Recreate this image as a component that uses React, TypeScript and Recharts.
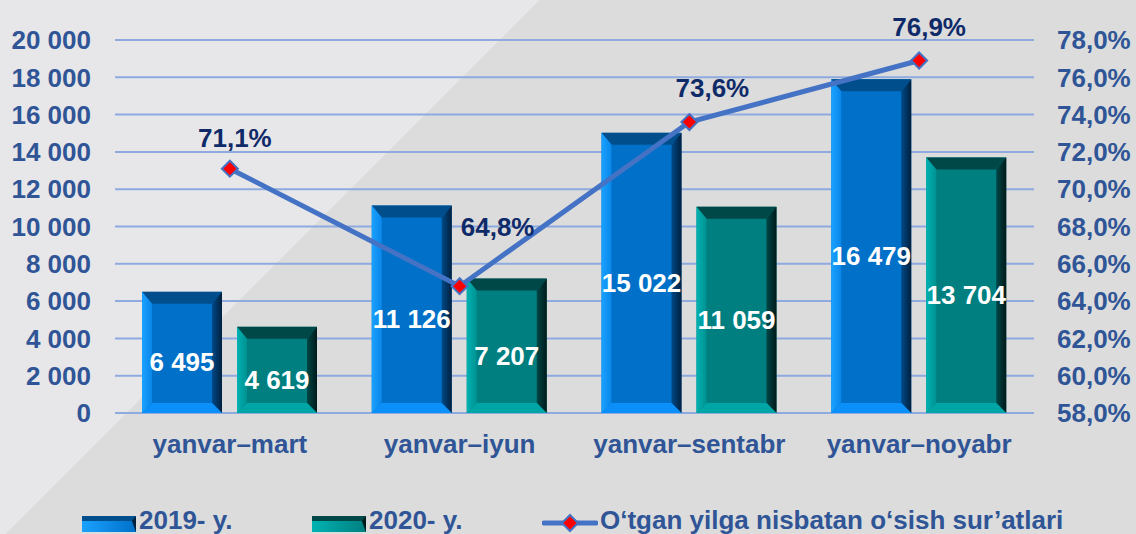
import React from "react";
import { ComposedChart, Bar, Line, XAxis, YAxis, CartesianGrid, LabelList } from "recharts";

const categories = ["yanvar–mart", "yanvar–iyun", "yanvar–sentabr", "yanvar–noyabr"];
// bar heights as drawn in the picture (the last 2019 bar is drawn taller than its label)
const values2019 = [6495, 11126, 15022, 17900];
const labels2019 = ["6 495", "11 126", "15 022", "16 479"];
const values2020 = [4619, 7207, 11059, 13704];
const labels2020 = ["4 619", "7 207", "11 059", "13 704"];
const growthRate = [71.1, 64.8, 73.6, 76.9];
const leftTicks = [0, 2000, 4000, 6000, 8000, 10000, 12000, 14000, 16000, 18000, 20000];
const rightTicks = [58, 60, 62, 64, 66, 68, 70, 72, 74, 76, 78];
const seriesNames = ["2019- y.", "2020- y.", "O‘tgan yilga nisbatan o‘sish sur’atlari"];

const data = categories.map((c, i) => ({
  cat: c,
  v2019: values2019[i],
  v2020: values2020[i],
  rate: growthRate[i],
}));

const FONT = "'Liberation Sans', Arial, sans-serif";
const AXIS_COLOR = "#2f5597";
const NAVY = "#0f2a68";

const pal2019 = {
  id: "b19",
  face: "#0070c8",
  top: "#004f8c",
  left: ["#1aa2ff", "#0a86ea"],
  right: ["#004a88", "#00203e"],
  bottom: "#0a90f8",
};
const pal2020 = {
  id: "b20",
  face: "#007f80",
  top: "#004848",
  left: ["#00b2b2", "#009191"],
  right: ["#004646", "#001a1a"],
  bottom: "#00a6a6",
};

const makeBevel = (p: any) => (props: any) => {
  const { x, y, width: w, height: h } = props;
  if (!h || h <= 0) return null;
  const b = Math.min(12, h / 2, w / 2);
  const bs = Math.min(10, h / 2, w / 2);
  return (
    <g>
      <defs>
        <linearGradient id={p.id + "L"} x1="0" y1="0" x2="1" y2="0">
          <stop offset="0" stopColor={p.left[0]} />
          <stop offset="1" stopColor={p.left[1]} />
        </linearGradient>
        <linearGradient id={p.id + "R"} x1="0" y1="0" x2="1" y2="0">
          <stop offset="0" stopColor={p.right[0]} />
          <stop offset="1" stopColor={p.right[1]} />
        </linearGradient>
      </defs>
      <rect x={x} y={y} width={w} height={h} fill={p.face} />
      <polygon
        points={`${x},${y} ${x + w},${y} ${x + w - bs},${y + b} ${x + bs},${y + b}`}
        fill={p.top}
      />
      <polygon
        points={`${x},${y} ${x + bs},${y + b} ${x + bs},${y + h - bs} ${x},${y + h}`}
        fill={`url(#${p.id}L)`}
      />
      <polygon
        points={`${x + w},${y} ${x + w},${y + h} ${x + w - bs},${y + h - bs} ${x + w - bs},${y + b}`}
        fill={`url(#${p.id}R)`}
      />
      <polygon
        points={`${x},${y + h} ${x + bs},${y + h - bs} ${x + w - bs},${y + h - bs} ${x + w},${y + h}`}
        fill={p.bottom}
      />
    </g>
  );
};

const Bar2019 = makeBevel(pal2019);
const Bar2020 = makeBevel(pal2020);

const barLabel = (labels: string[]) => (props: any) => {
  const { x, y, width, height, index } = props;
  return (
    <text
      x={x + width / 2}
      y={y + height / 2 + 10 + 9}
      textAnchor="middle"
      fill="#ffffff"
      fontSize={26}
      fontWeight="bold"
      fontFamily={FONT}
    >
      {labels[index]}
    </text>
  );
};

const lineLabelOffsets = [
  [5, -31],
  [38, -59],
  [23, -34],
  [10, -34],
];

const LineLabel = (props: any) => {
  const { x, y, index, value } = props;
  const [dx, dy] = lineLabelOffsets[index] || [0, -30];
  return (
    <text
      x={x + dx}
      y={y + dy + 9}
      textAnchor="middle"
      fill={NAVY}
      fontSize={26}
      fontWeight="bold"
      fontFamily={FONT}
    >
      {Number(value).toFixed(1).replace(".", ",") + "%"}
    </text>
  );
};

const Diamond = (props: any) => {
  const { cx, cy } = props;
  if (cx == null || cy == null) return null;
  const r = 8;
  return (
    <polygon
      points={`${cx},${cy - r} ${cx + r},${cy} ${cx},${cy + r} ${cx - r},${cy}`}
      fill="#ff0000"
      stroke="#4472c4"
      strokeWidth={2}
    />
  );
};

const fmtThousands = (n: number) => String(n).replace(/\B(?=(\d{3})+(?!\d))/g, " ");
const fmtPct = (n: number) => n.toFixed(1).replace(".", ",") + "%";

const CatTick = (props: any) => {
  const { x, y, payload } = props;
  return (
    <text
      x={x}
      y={y + 40}
      textAnchor="middle"
      fill={AXIS_COLOR}
      fontSize={26}
      fontWeight="bold"
      fontFamily={FONT}
    >
      {payload.value}
    </text>
  );
};

const LegendBarIcon = ({ p }: { p: any }) => (
  <svg width={54} height={16} style={{ display: "block" }}>
    <defs>
      <linearGradient id={p.id + "lg"} x1="0" y1="0" x2="1" y2="0">
        <stop offset="0" stopColor={p.left[0]} />
        <stop offset="1" stopColor={p.face} />
      </linearGradient>
    </defs>
    <rect x={0} y={0} width={54} height={16} fill={p.top} />
    <polygon points="0,5 50,5 54,16 0,16" fill={`url(#${p.id}lg)`} />
    <polygon points="50,5 54,0 54,16" fill={p.right[1]} />
  </svg>
);

export default function App() {
  const textStyle: React.CSSProperties = {
    fontFamily: FONT,
    fontWeight: "bold",
    fontSize: 26,
    color: AXIS_COLOR,
    position: "absolute",
    top: 505,
    lineHeight: "30px",
    whiteSpace: "nowrap",
  };
  return (
    <div
      style={{
        position: "absolute",
        left: 0,
        top: 0,
        width: 1136,
        height: 534,
        overflow: "hidden",
        background: "linear-gradient(135deg, #e7e7e9 32.3%, #dcdcdc 32.3%)",
        fontFamily: FONT,
      }}
    >
      <ComposedChart
        width={1136}
        height={534}
        data={data}
        margin={{ top: 40, right: 0, bottom: 0, left: 0 }}
        barSize={80}
        barGap={15}
        style={{ fontFamily: FONT }}
      >
        <CartesianGrid
          yAxisId="left"
          vertical={false}
          stroke="#8eaadf"
          strokeWidth={2}
        />
        <XAxis
          dataKey="cat"
          height={121}
          axisLine={false}
          tickLine={false}
          tickSize={0}
          tickMargin={0}
          tick={<CatTick />}
          interval={0}
        />
        <YAxis
          yAxisId="left"
          orientation="left"
          width={115}
          domain={[0, 20000]}
          ticks={leftTicks}
          tickFormatter={fmtThousands}
          axisLine={false}
          tickLine={false}
          tickSize={0}
          tickMargin={24}
          tick={{ fill: AXIS_COLOR, fontSize: 26, fontWeight: "bold", fontFamily: FONT }}
          interval={0}
        />
        <YAxis
          yAxisId="right"
          orientation="right"
          width={102}
          domain={[58, 78]}
          ticks={rightTicks}
          tickFormatter={fmtPct}
          axisLine={false}
          tickLine={false}
          tickSize={0}
          tickMargin={23}
          tick={{ fill: AXIS_COLOR, fontSize: 26, fontWeight: "bold", fontFamily: FONT }}
          interval={0}
        />
        <Bar
          yAxisId="left"
          dataKey="v2019"
          name={seriesNames[0]}
          shape={Bar2019}
          isAnimationActive={false}
        >
          <LabelList dataKey="v2019" content={barLabel(labels2019)} />
        </Bar>
        <Bar
          yAxisId="left"
          dataKey="v2020"
          name={seriesNames[1]}
          shape={Bar2020}
          isAnimationActive={false}
        >
          <LabelList dataKey="v2020" content={barLabel(labels2020)} />
        </Bar>
        <Line
          yAxisId="right"
          dataKey="rate"
          name={seriesNames[2]}
          type="linear"
          stroke="#4472c4"
          strokeWidth={5}
          dot={<Diamond />}
          activeDot={false}
          isAnimationActive={false}
        >
          <LabelList dataKey="rate" content={<LineLabel />} />
        </Line>
      </ComposedChart>

      <div style={{ position: "absolute", left: 82, top: 516 }}>
        <LegendBarIcon p={pal2019} />
      </div>
      <div style={{ ...textStyle, left: 139 }}>{seriesNames[0]}</div>
      <div style={{ position: "absolute", left: 312, top: 516 }}>
        <LegendBarIcon p={pal2020} />
      </div>
      <div style={{ ...textStyle, left: 369 }}>{seriesNames[1]}</div>
      <div style={{ position: "absolute", left: 542, top: 513 }}>
        <svg width={56} height={20} style={{ display: "block" }}>
          <line x1={2} y1={10} x2={54} y2={10} stroke="#4472c4" strokeWidth={5} strokeLinecap="round" />
          <polygon points="28,2 36,10 28,18 20,10" fill="#ff0000" stroke="#4472c4" strokeWidth={2} />
        </svg>
      </div>
      <div style={{ ...textStyle, left: 600 }}>{seriesNames[2]}</div>
    </div>
  );
}
